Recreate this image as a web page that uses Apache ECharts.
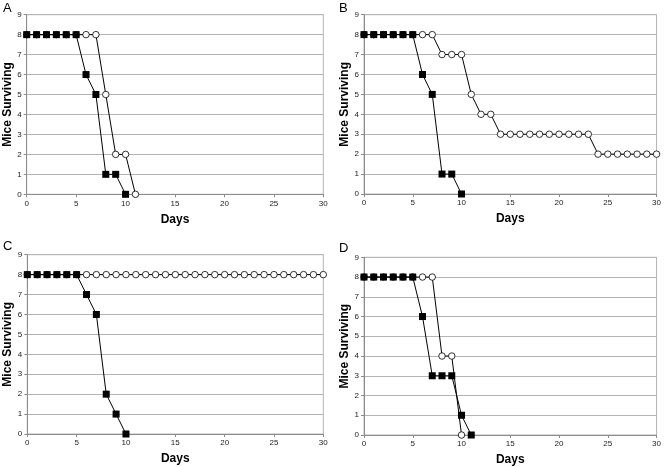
<!DOCTYPE html>
<html><head><meta charset="utf-8">
<script src="https://cdn.jsdelivr.net/npm/echarts@6/dist/echarts.min.js"></script>
<style>html,body{margin:0;padding:0;background:#fff}#c{width:664px;height:467px}</style>
</head><body><div id="c"></div>
<script>
// Days 0..30
const days = Array.from({length: 31}, (_, i) => i);
const panelLabels = ['A', 'B', 'C', 'D'];
// Filled squares
const squaresA = [8,8,8,8,8,8,6,5,1,1,0];
const squaresB = [8,8,8,8,8,8,6,5,1,1,0];
const squaresC = [8,8,8,8,8,8,7,6,2,1,0];
const squaresD = [8,8,8,8,8,8,6,3,3,3,1,0];
// Open circles
const circlesA = [8,8,8,8,8,8,8,8,5,2,2,0];
const circlesB = [8,8,8,8,8,8,8,8,7,7,7,5,4,4,3,3,3,3,3,3,3,3,3,3,2,2,2,2,2,2,2];
const circlesC = [8,8,8,8,8,8,8,8,8,8,8,8,8,8,8,8,8,8,8,8,8,8,8,8,8,8,8,8,8,8,8];
const circlesD = [8,8,8,8,8,8,8,8,4,4,0];
const xTicks = [0,5,10,15,20,25,30];
const yTicks = [0,1,2,3,4,5,6,7,8,9];

const squares = [squaresA, squaresB, squaresC, squaresD];
const circles = [circlesA, circlesB, circlesC, circlesD];

const grids = [
  {left: 26.7, top: 14.7, width: 296.6, height: 179.6},
  {left: 364, top: 14.7, width: 296.3, height: 179.3},
  {left: 27.3, top: 254.7, width: 296, height: 179.3},
  {left: 364, top: 257.3, width: 296.3, height: 179}
];
const letterPos = [[3,2],[339,2],[3,240],[339,242]];

const gridC = '#b4b4b4';
const axisC = '#8c8c8c';
const option = {
  animation: false,
  backgroundColor: '#fff',
  title: panelLabels.map((t, i) => ({
    text: t, left: letterPos[i][0], top: letterPos[i][1], padding: 0,
    textStyle: {fontFamily: 'Liberation Sans, Arial', fontWeight: 'normal', fontSize: 13, color: '#000'}
  })),
  grid: grids.map(g => Object.assign({show: true, borderColor: gridC, borderWidth: 1, backgroundColor: 'transparent'}, g)),
  xAxis: grids.map((g, i) => ({
    type: 'value', gridIndex: i, min: xTicks[0], max: xTicks[xTicks.length-1], interval: xTicks[1]-xTicks[0],
    name: 'Days', nameLocation: 'middle', nameGap: 19,
    nameTextStyle: {fontFamily: 'Liberation Sans, Arial', fontWeight: 'bold', fontSize: 12, color: '#000'},
    axisLine: {show: true, lineStyle: {color: axisC, width: 1}},
    axisTick: {show: true, length: 3, lineStyle: {color: axisC}},
    axisLabel: {fontFamily: 'Liberation Sans, Arial', fontSize: 8, color: '#222', margin: 5},
    splitLine: {show: false}
  })),
  yAxis: grids.map((g, i) => ({
    type: 'value', gridIndex: i, min: yTicks[0], max: yTicks[yTicks.length-1], interval: 1,
    name: 'Mice Surviving', nameLocation: 'middle', nameGap: 11,
    nameTextStyle: {fontFamily: 'Liberation Sans, Arial', fontWeight: 'bold', fontSize: 12, color: '#000'},
    axisLine: {show: true, lineStyle: {color: axisC, width: 1}},
    axisTick: {show: true, length: 3, lineStyle: {color: axisC}},
    axisLabel: {fontFamily: 'Liberation Sans, Arial', fontSize: 8, color: '#222', margin: 5},
    splitLine: {show: true, lineStyle: {color: gridC, width: 1}}
  })),
  series: []
};
for (let i = 0; i < 4; i++) {
  option.series.push({
    type: 'line', xAxisIndex: i, yAxisIndex: i, z: 2,
    data: circles[i].map((v, k) => [days[k], v]),
    symbol: 'circle', symbolSize: 6.5, showSymbol: true,
    lineStyle: {color: '#000', width: 1},
    itemStyle: {color: '#fff', borderColor: '#000', borderWidth: 0.8}
  });
  option.series.push({
    type: 'line', xAxisIndex: i, yAxisIndex: i, z: 3,
    data: squares[i].map((v, k) => [days[k], v]),
    symbol: 'rect', symbolSize: 7, showSymbol: true,
    lineStyle: {color: '#000', width: 1},
    itemStyle: {color: '#000', borderColor: '#000', borderWidth: 0}
  });
}
const chart = echarts.init(document.getElementById('c'), null, {renderer: 'canvas'});
chart.setOption(option);
</script></body></html>
